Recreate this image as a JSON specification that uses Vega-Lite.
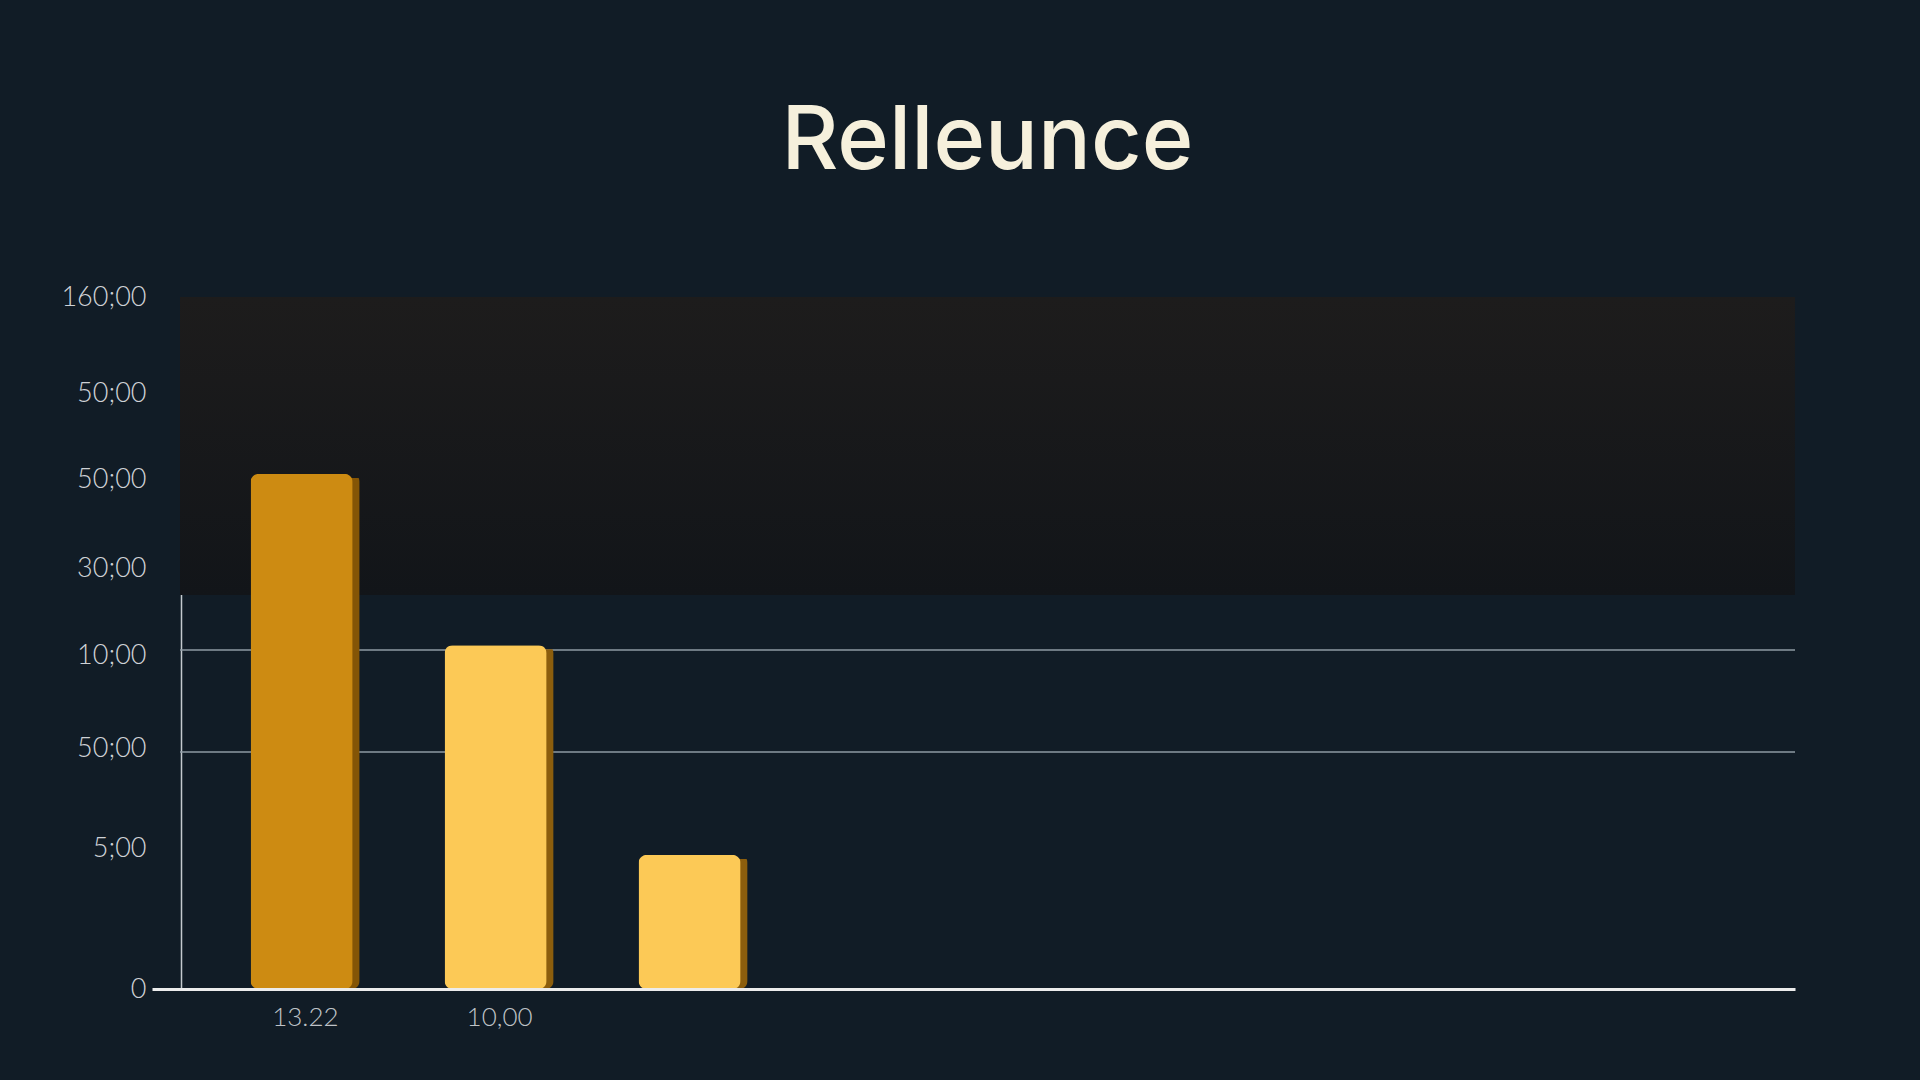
{
  "$schema": "https://vega.github.io/schema/vega-lite/v6.json",
  "width": 1615,
  "height": 692,
  "autosize": {"type": "none"},
  "padding": {"left": 180, "top": 297, "right": 125, "bottom": 91},
  "background": "#111c26",
  "config": {"view": {"stroke": null}},
  "title": {
    "text": "Relleunce",
    "anchor": "middle",
    "font": "Inter",
    "fontSize": 88,
    "fontWeight": 500,
    "color": "#f6f0dc",
    "offset": 96
  },
  "datasets": {
    "bars": [
      {"label": "13.22", "value": 119.1},
      {"label": "10,00", "value": 79.5},
      {"label": "c", "value": 31.0}
    ],
    "grid": [{"level": 78.4}, {"level": 54.8}],
    "band": [{"lo": 91.1, "hi": 160}]
  },
  "layer": [
    {
      "data": {"name": "band"},
      "mark": {
        "type": "rect",
        "color": {
          "gradient": "linear",
          "x1": 0, "y1": 0, "x2": 0, "y2": 1,
          "stops": [
            {"offset": 0, "color": "#1d1c1c"},
            {"offset": 1, "color": "#121519"}
          ]
        }
      },
      "encoding": {
        "y": {"field": "hi", "type": "quantitative", "title": null, "scale": {"domain": [0, 160]}},
        "y2": {"field": "lo"},
        "x": {"value": 0},
        "x2": {"value": "width"}
      }
    },
    {
      "data": {"name": "grid"},
      "mark": {"type": "rule", "color": "#8e9aa3", "strokeWidth": 1.5},
      "encoding": {
        "y": {"field": "level", "type": "quantitative", "title": null}
      }
    },
    {
      "data": {"name": "bars"},
      "mark": {"type": "bar", "cornerRadius": 8, "xOffset": 7, "yOffset": 4},
      "encoding": {
        "x": {"field": "label", "type": "nominal", "sort": null, "title": null},
        "y": {"field": "value", "type": "quantitative", "title": null},
        "color": {
          "condition": {"test": "datum.label == '13.22'", "value": "#845506"},
          "value": "#8c5e0d"
        }
      }
    },
    {
      "data": {"name": "bars"},
      "mark": {"type": "bar", "cornerRadius": 8},
      "encoding": {
        "x": {
          "field": "label",
          "type": "nominal",
          "sort": null,
          "scale": {
            "domain": ["13.22", "10,00", "c", "d", "e", "f", "g", "h"],
            "paddingInner": 0.474,
            "paddingOuter": 0.4,
            "align": 0.455
          },
          "axis": {
            "title": null,
            "labelExpr": "(datum.label == '13.22' || datum.label == '10,00') ? datum.label : ''",
            "domainColor": "#ececec",
            "domainWidth": 3,
            "ticks": false,
            "labelFont": "Lato",
            "labelFontWeight": 300,
            "labelFontSize": 26,
            "labelColor": "#bfc3c7",
            "labelPadding": 28,
            "labelOffset": 37,
            "labelAngle": 0,
            "zindex": 1
          }
        },
        "y": {
          "field": "value",
          "type": "quantitative",
          "axis": {
            "title": null,
            "grid": false,
            "values": [0, 32.6, 55.7, 77.0, 97.3, 117.7, 137.8, 160],
            "labelExpr": "datum.value == 160 ? '160;00' : datum.value == 137.8 ? '50;00' : datum.value == 117.7 ? '50;00' : datum.value == 97.3 ? '30;00' : datum.value == 77 ? '10;00' : datum.value == 55.7 ? '50;00' : datum.value == 32.6 ? '5;00' : '0'",
            "domainColor": "#c4c9ce",
            "domainWidth": 1.5,
            "offset": -1,
            "ticks": true,
            "tickSize": 29,
            "tickWidth": 3,
            "tickColor": {"condition": {"test": "datum.value === 0", "value": "#ececec"}, "value": "rgba(0,0,0,0)"},
            "labelPadding": 6,
            "labelFont": "Lato",
            "labelFontWeight": 300,
            "labelFontSize": 27,
            "labelColor": "#cfd2d6"
          }
        },
        "color": {
          "condition": {"test": "datum.label == '13.22'", "value": "#cd8b12"},
          "value": "#fcc956"
        }
      }
    }
  ]
}
